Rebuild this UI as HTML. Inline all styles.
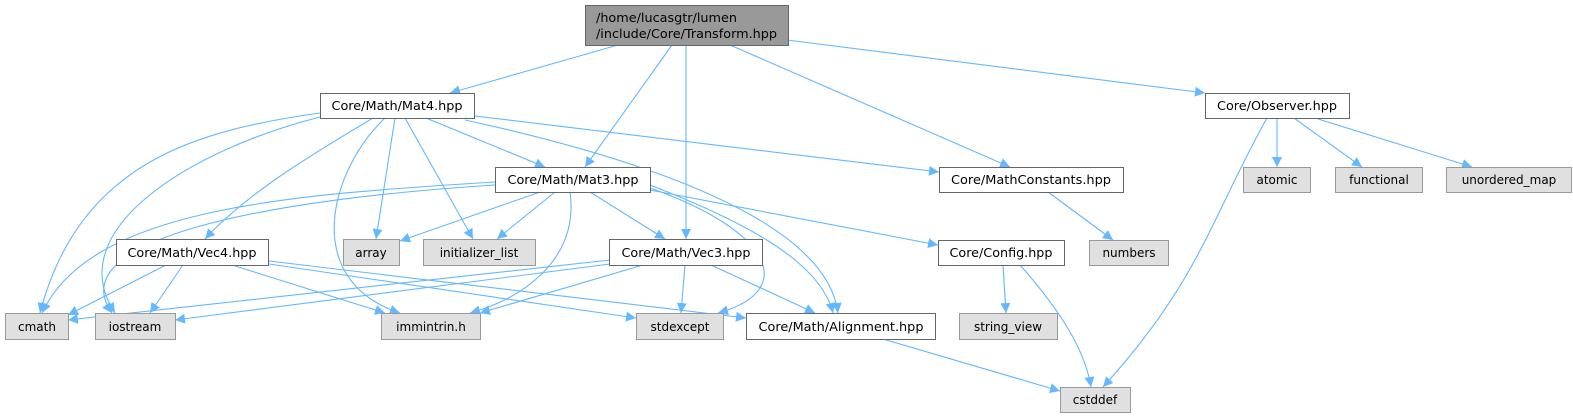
<!DOCTYPE html>
<html><head><meta charset="utf-8"><style>
html,body{margin:0;padding:0;background:#fff;}
svg{display:block;}
text{font-family:"DejaVu Sans","Liberation Sans",sans-serif;font-size:12px;fill:#000;}
</style></head><body>
<svg width="1573" height="417" viewBox="0 0 1573 417" xmlns="http://www.w3.org/2000/svg">
<defs>
<marker id="a" viewBox="0 0 10 10" refX="10" refY="5" markerWidth="10" markerHeight="10" markerUnits="userSpaceOnUse" orient="auto">
<path d="M0,0 L10,5 L0,10 z" fill="#63b8ff"/>
</marker>
</defs>
<g fill="none" stroke="#63b8ff" stroke-width="1.1" marker-end="url(#a)">
<path d="M618,45 L450,93"/>
<path d="M672,45 L585,167"/>
<path d="M686,45 L686,239"/>
<path d="M730,45 L1010,167"/>
<path d="M787,40 L1205,93"/>
<path d="M426,118 L545,167"/>
<path d="M373,118 C320,150 250,190 205,239"/>
<path d="M395,118 L376,239"/>
<path d="M405,118 L473,239"/>
<path d="M385,118 C330,170 300,280 400,313"/>
<path d="M320,113 C200,130 80,160 40,313"/>
<path d="M320,117 C190,150 60,230 115,313"/>
<path d="M465,120 C740,180 830,250 838,313"/>
<path d="M475,116 L939,172"/>
<path d="M540,192 L400,241"/>
<path d="M555,192 L497,239"/>
<path d="M590,192 L665,239"/>
<path d="M570,192 C580,260 520,300 470,313"/>
<path d="M495,182 C280,195 90,210 42,313"/>
<path d="M495,185 C260,200 60,240 112,313"/>
<path d="M650,188 C770,230 800,290 718,313"/>
<path d="M650,185 C740,220 820,260 833,313"/>
<path d="M650,190 L938,245"/>
<path d="M166,265 L68,315"/>
<path d="M183,265 L150,313"/>
<path d="M232,265 L385,313"/>
<path d="M269,264 L636,318"/>
<path d="M269,261 L746,318"/>
<path d="M610,260 L68,320"/>
<path d="M610,264 L175,320"/>
<path d="M643,265 L480,313"/>
<path d="M685,265 L681,313"/>
<path d="M711,265 L815,313"/>
<path d="M883,339 L1060,391"/>
<path d="M1003,265 L1006,313"/>
<path d="M1020,265 C1060,310 1085,350 1091,387"/>
<path d="M1048,192 L1113,240"/>
<path d="M1267,118 C1210,220 1200,280 1103,387"/>
<path d="M1277,118 L1277,167"/>
<path d="M1294,118 L1362,167"/>
<path d="M1315,118 L1472,167"/>
</g>
<g stroke-width="1">
<rect x="585.5" y="5.5" width="203" height="40" fill="#999" stroke="#666"/>
<text x="596" y="22" textLength="141" lengthAdjust="spacingAndGlyphs">/home/lucasgtr/lumen</text>
<text x="596" y="38" textLength="181" lengthAdjust="spacingAndGlyphs">/include/Core/Transform.hpp</text>

<rect x="320.5" y="93.5" width="154" height="25" fill="#fff" stroke="#666"/>
<text x="397" y="110" text-anchor="middle" textLength="131" lengthAdjust="spacingAndGlyphs">Core/Math/Mat4.hpp</text>
<rect x="495.5" y="167.5" width="155" height="25" fill="#fff" stroke="#666"/>
<text x="573" y="184" text-anchor="middle" textLength="131" lengthAdjust="spacingAndGlyphs">Core/Math/Mat3.hpp</text>
<rect x="116.5" y="239.5" width="152" height="26" fill="#fff" stroke="#666"/>
<text x="192" y="257" text-anchor="middle" textLength="129" lengthAdjust="spacingAndGlyphs">Core/Math/Vec4.hpp</text>
<rect x="609.5" y="239.5" width="153" height="26" fill="#fff" stroke="#666"/>
<text x="686" y="257" text-anchor="middle" textLength="129" lengthAdjust="spacingAndGlyphs">Core/Math/Vec3.hpp</text>
<rect x="746.5" y="313.5" width="189" height="26" fill="#fff" stroke="#666"/>
<text x="841" y="331" text-anchor="middle" textLength="165" lengthAdjust="spacingAndGlyphs">Core/Math/Alignment.hpp</text>
<rect x="1205.5" y="93.5" width="144" height="25" fill="#fff" stroke="#666"/>
<text x="1277" y="110" text-anchor="middle" textLength="120" lengthAdjust="spacingAndGlyphs">Core/Observer.hpp</text>
<rect x="939.5" y="167.5" width="184" height="25" fill="#fff" stroke="#666"/>
<text x="1031" y="184" text-anchor="middle" textLength="160" lengthAdjust="spacingAndGlyphs">Core/MathConstants.hpp</text>
<rect x="938.5" y="240.5" width="126" height="25" fill="#fff" stroke="#666"/>
<text x="1001" y="257" text-anchor="middle" textLength="103" lengthAdjust="spacingAndGlyphs">Core/Config.hpp</text>

<g fill="#e0e0e0" stroke="#999">
<rect x="343.5" y="239.5" width="56" height="26"/>
<rect x="423.5" y="239.5" width="112" height="26"/>
<rect x="5.5" y="313.5" width="63" height="26"/>
<rect x="95.5" y="313.5" width="80" height="26"/>
<rect x="381.5" y="313.5" width="99" height="26"/>
<rect x="636.5" y="313.5" width="87" height="26"/>
<rect x="1243.5" y="167.5" width="67" height="25"/>
<rect x="1335.5" y="167.5" width="87" height="25"/>
<rect x="1446.5" y="167.5" width="125" height="25"/>
<rect x="1089.5" y="240.5" width="79" height="25"/>
<rect x="959.5" y="313.5" width="98" height="26"/>
<rect x="1060.5" y="387.5" width="70" height="25"/>
</g>
<text x="371" y="257" text-anchor="middle">array</text>
<text x="479" y="257" text-anchor="middle">initializer_list</text>
<text x="37" y="331" text-anchor="middle">cmath</text>
<text x="135" y="331" text-anchor="middle">iostream</text>
<text x="431" y="331" text-anchor="middle">immintrin.h</text>
<text x="680" y="331" text-anchor="middle">stdexcept</text>
<text x="1277" y="184" text-anchor="middle">atomic</text>
<text x="1379" y="184" text-anchor="middle">functional</text>
<text x="1509" y="184" text-anchor="middle">unordered_map</text>
<text x="1129" y="257" text-anchor="middle">numbers</text>
<text x="1008" y="331" text-anchor="middle">string_view</text>
<text x="1095" y="404" text-anchor="middle">cstddef</text>
</g>
</svg>
</body></html>
